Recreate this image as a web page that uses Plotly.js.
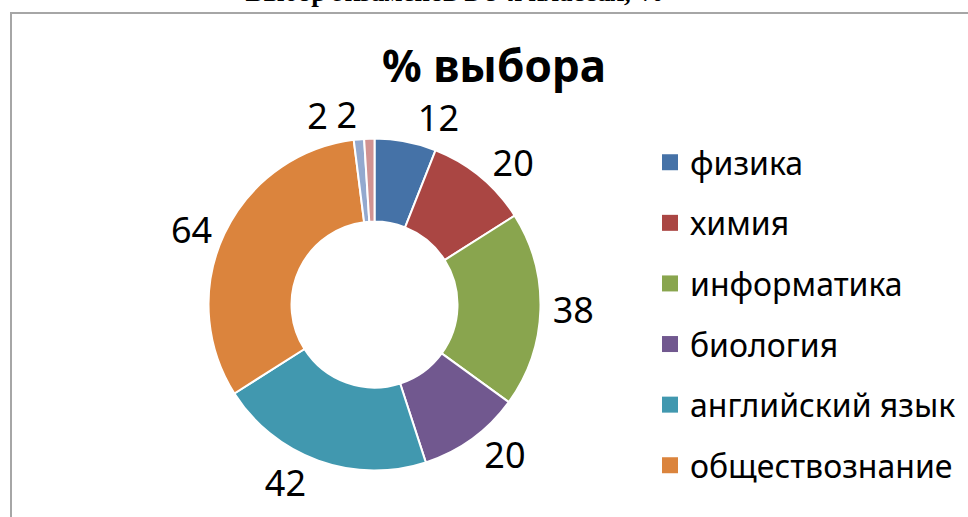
<!DOCTYPE html>
<html>
<head>
<meta charset="utf-8">
<script src="https://cdn.plot.ly/plotly-3.0.1.min.js"></script>
<style>
html,body{margin:0;padding:0;background:#fff;}
#wrap{position:relative;width:968px;height:517px;overflow:hidden;}
#chart{position:absolute;left:0;top:0;width:968px;height:517px;}
#frame{position:absolute;left:10px;top:12px;width:968px;height:520px;border-left:2px solid #a6a6a6;border-top:2px solid #a6a6a6;pointer-events:none;}
</style>
</head>
<body>
<div id="wrap"><div id="chart"></div><div id="frame"></div></div>
<script>
// Data
const subjects = ["физика", "химия", "информатика", "биология", "английский язык", "обществознание", "прочее 1", "прочее 2"];
const values = [12, 20, 38, 20, 42, 64, 2, 2];
const colors = ["#4572A7", "#AA4643", "#89A54E", "#71588F", "#4198AF", "#DB843D", "#93A9CF", "#D19392"];
const legendCount = 6; // only the first six categories appear in the legend

const labelFont = "'Noto Sans', 'Open Sans', sans-serif";
const domain = {x: [0.2154, 0.5584], y: [0.0899, 0.732]};

// value label template per slice (extra spacing keeps the two tiny labels apart)
const templates = values.map((v, i) => i === 6 ? "%{value}\u00a0\u00a0" : "%{value}");

// labels are split over two identical pies so neighbouring labels are not pushed apart
const posA = values.map((v, i) => i % 2 === 0 ? "outside" : "none");
const posB = values.map((v, i) => i % 2 === 1 ? "outside" : "none");

const baseTrace = {
  type: "pie",
  labels: subjects,
  values: values,
  sort: false,
  direction: "clockwise",
  rotation: 0,
  hole: 0.5,
  texttemplate: templates,
  outsidetextfont: {family: labelFont, size: 36, color: "#000"},
  showlegend: false,
  hoverinfo: "skip",
  domain: domain
};

const traces = [
  Object.assign({}, baseTrace, {
    marker: {colors: colors, line: {color: "#ffffff", width: 2}},
    textposition: posA
  }),
  Object.assign({}, baseTrace, {
    marker: {colors: values.map(() => "rgba(0,0,0,0)"), line: {width: 0}},
    textposition: posB
  })
];

for (let i = 0; i < legendCount; i++) {
  traces.push({
    type: "scatter",
    mode: "markers",
    x: [null], y: [null],
    name: subjects[i],
    legendgroup: "g" + i,
    marker: {symbol: "square", size: 16, color: colors[i]},
    hoverinfo: "skip"
  });
}

const layout = {
  width: 968, height: 517,
  margin: {l: 0, r: 0, t: 0, b: 0},
  paper_bgcolor: "#fff", plot_bgcolor: "#fff",
  xaxis: {visible: false}, yaxis: {visible: false},
  title: {
    text: "Выбор экзаменов в 9-х классах, %",
    font: {family: "'Liberation Serif', 'Times New Roman', serif", size: 27, color: "#000", weight: "bold"},
    x: 0.47, xanchor: "center",
    yref: "container", y: 0.998, yanchor: "bottom"
  },
  annotations: [{
    text: "<b>% выбора</b>",
    xref: "paper", yref: "paper",
    x: 0.51, y: 0.874, xanchor: "center", yanchor: "middle",
    showarrow: false,
    font: {family: labelFont, size: 44, color: "#000"}
  }],
  legend: {
    x: 0.6715, xanchor: "left",
    y: 0.739, yanchor: "top",
    font: {family: labelFont, size: 32, color: "#000"},
    tracegroupgap: 16,
    bgcolor: "rgba(0,0,0,0)"
  },
  showlegend: true
};

Plotly.newPlot("chart", traces, layout, {displayModeBar: false, staticPlot: true});
</script>
</body>
</html>
